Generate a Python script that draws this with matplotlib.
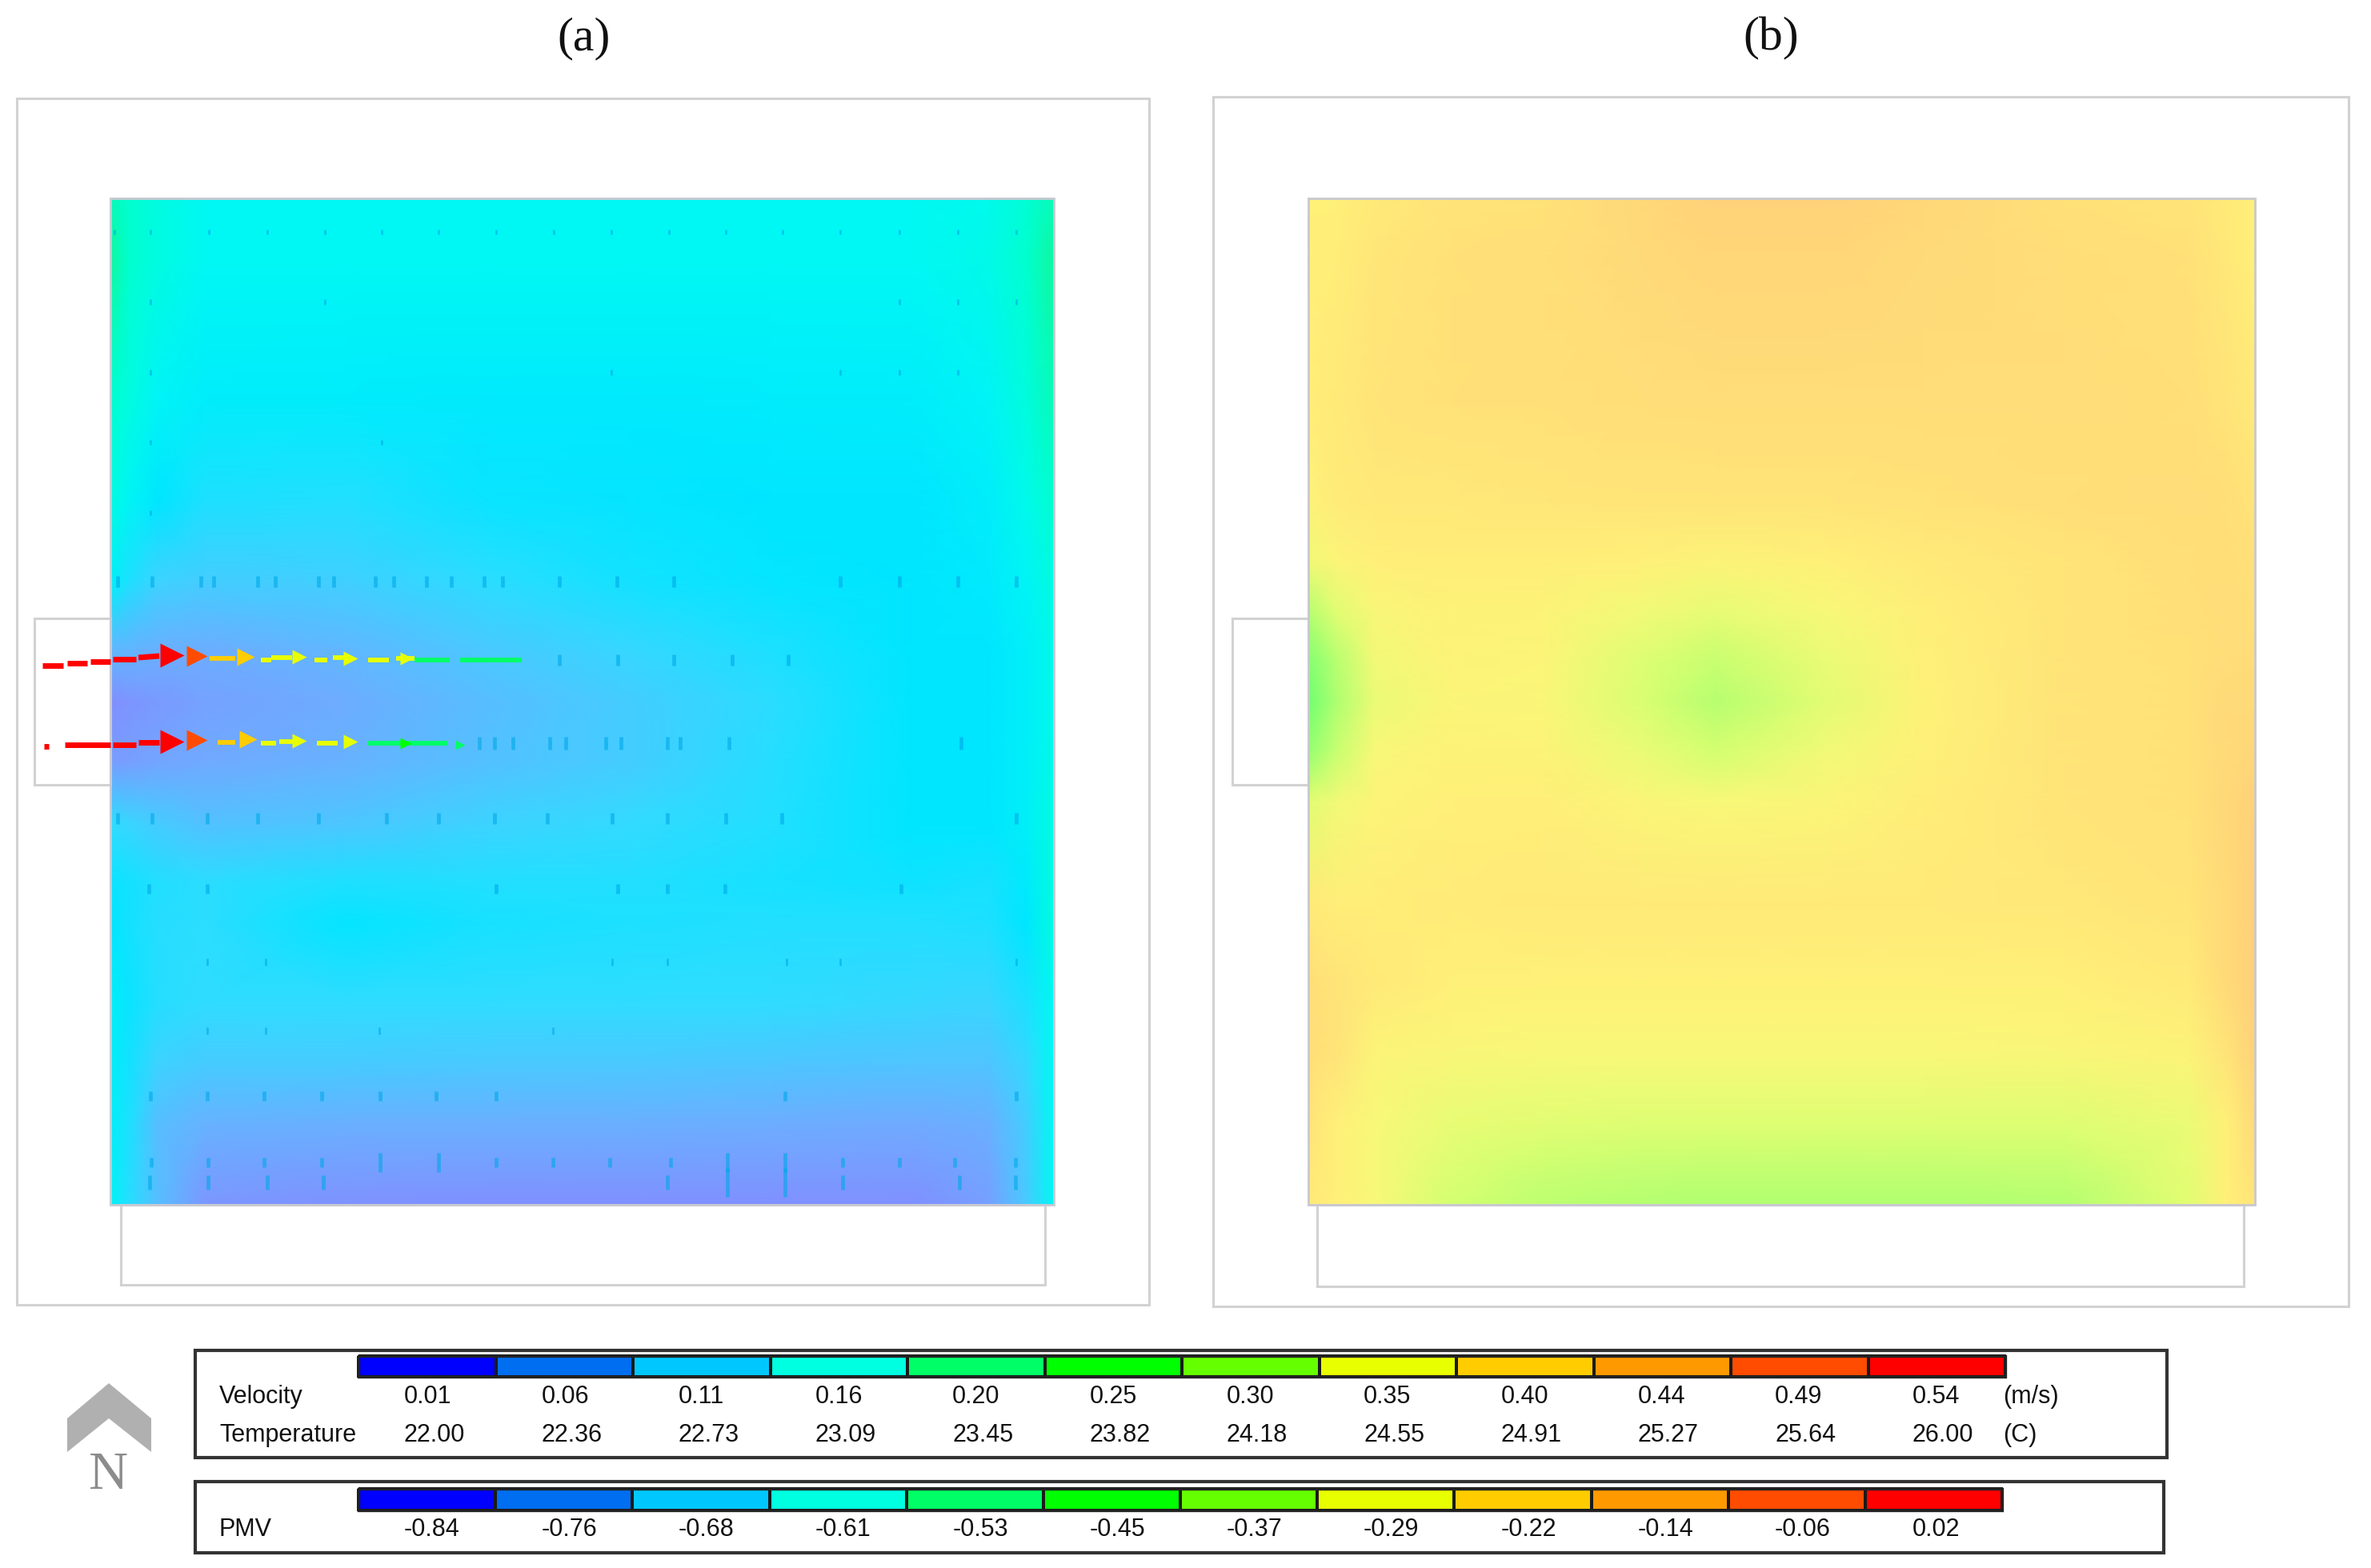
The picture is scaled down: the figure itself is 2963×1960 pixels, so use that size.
import matplotlib
matplotlib.use("Agg")
import matplotlib.pyplot as plt
import numpy as np
from matplotlib.colors import LinearSegmentedColormap, ListedColormap
from matplotlib.patches import Polygon, Rectangle

plt.rcParams["font.family"] = ["Liberation Sans", "DejaVu Sans"]

# legend data
LEGEND_COLORS = ["#0000ff", "#006ef0", "#00c8ff", "#00ffe0", "#00ff66", "#00ff00",
                 "#66ff00", "#e8ff00", "#ffcc00", "#ff9900", "#ff4c00", "#ff0000"]
VELOCITY = ["0.01", "0.06", "0.11", "0.16", "0.20", "0.25", "0.30", "0.35", "0.40", "0.44", "0.49", "0.54"]
TEMPERATURE = ["22.00", "22.36", "22.73", "23.09", "23.45", "23.82", "24.18", "24.55", "24.91", "25.27", "25.64", "26.00"]
PMV = ["-0.84", "-0.76", "-0.68", "-0.61", "-0.53", "-0.45", "-0.37", "-0.29", "-0.22", "-0.14", "-0.06", "0.02"]

# left room, colour level read per grid node (0 blue-violet .. 7 green)
LEFT_COLS = [0, .02, .05, .1, .25, .4, .55, .7, .85, .93, .97, 1]
LEFT_ROWS = [0, .06, .2, .3, .38, .45, .5, .56, .62, .68, .72, .8, .86, .92, 1]
LEFT_FIELD = [
    [6.5, 6.0, 5.5, 5.0, 5.0, 5.0, 5.0, 5.0, 5.0, 5.2, 5.8, 6.5],
    [7.0, 6.0, 5.5, 5.0, 5.0, 5.0, 5.0, 5.0, 5.0, 5.3, 6.0, 7.0],
    [6.0, 5.5, 4.8, 4.4, 4.3, 4.2, 4.2, 4.3, 4.4, 4.8, 5.6, 6.5],
    [5.5, 4.8, 4.0, 3.4, 3.3, 3.8, 3.9, 4.0, 4.0, 4.4, 5.2, 6.0],
    [4.6, 3.4, 2.6, 2.4, 2.5, 3.1, 3.6, 3.9, 4.0, 4.2, 4.8, 5.5],
    [1.5, 1.4, 1.2, 1.1, 1.5, 2.2, 2.8, 3.4, 4.0, 4.0, 4.5, 5.3],
    [0.0, 0.2, 0.4, 0.7, 1.1, 1.8, 2.4, 3.1, 4.0, 4.0, 4.5, 5.2],
    [0.5, 0.6, 0.8, 1.0, 1.3, 1.9, 2.4, 3.2, 4.0, 4.0, 4.5, 5.3],
    [3.0, 2.7, 2.3, 1.9, 2.1, 2.6, 2.9, 3.3, 4.0, 4.0, 4.5, 5.5],
    [3.8, 3.6, 3.3, 3.1, 3.4, 3.3, 3.3, 3.5, 3.7, 3.5, 4.2, 5.5],
    [4.0, 3.6, 3.2, 3.1, 3.9, 3.5, 3.4, 3.3, 3.3, 3.4, 4.0, 5.5],
    [4.5, 3.8, 3.2, 3.0, 3.0, 3.0, 3.0, 3.0, 2.8, 2.7, 3.4, 5.0],
    [4.5, 3.6, 2.6, 2.3, 2.3, 2.2, 2.2, 2.1, 2.0, 2.0, 2.8, 5.0],
    [4.5, 3.4, 1.8, 1.3, 1.2, 1.2, 1.2, 1.1, 1.0, 1.2, 2.4, 5.0],
    [4.8, 3.2, 1.8, 0.3, 0.1, 0.0, 0.0, 0.0, 0.0, 0.6, 2.2, 5.0],
]
LEFT_LEVELS = ["#8090ff", "#70aaff", "#50c4ff", "#30dcff", "#00e6ff", "#00f8f4", "#00ffd0", "#10f8a0"]

# right room, colour level read per grid node (0 green .. 7 orange)
RIGHT_COLS = [0, .03, .07, .15, .25, .35, .43, .55, .65, .8, .93, .97, 1]
RIGHT_ROWS = [0, .06, .2, .3, .36, .41, .46, .5, .55, .6, .7, .78, .85, .92, 1]
RIGHT_FIELD = [
    [4.0, 4.0, 4.5, 5.0, 5.2, 6.2, 6.8, 6.8, 6.3, 5.3, 5.0, 4.5, 4.0],
    [4.0, 4.2, 4.8, 5.3, 5.5, 6.0, 6.4, 6.4, 6.0, 5.6, 5.3, 4.7, 4.0],
    [4.2, 4.5, 5.0, 5.3, 5.4, 5.6, 5.7, 5.7, 5.7, 5.7, 5.5, 5.0, 4.5],
    [3.8, 4.3, 4.6, 4.7, 4.8, 5.0, 5.0, 5.0, 5.2, 5.5, 5.7, 5.5, 5.0],
    [2.8, 3.5, 4.0, 4.2, 4.2, 4.0, 3.6, 4.0, 4.5, 5.0, 5.5, 5.6, 5.3],
    [1.2, 2.3, 3.2, 3.8, 3.6, 2.8, 2.5, 3.0, 4.1, 5.0, 5.4, 5.7, 5.5],
    [0.3, 1.2, 2.8, 3.6, 3.4, 2.2, 1.6, 2.6, 3.9, 5.0, 5.3, 5.7, 5.8],
    [0.0, 1.0, 2.6, 3.4, 3.3, 2.1, 1.2, 2.4, 3.8, 5.0, 5.3, 6.0, 6.0],
    [0.6, 1.6, 3.0, 3.7, 3.6, 2.6, 1.9, 2.8, 3.9, 5.0, 5.3, 6.0, 6.3],
    [2.3, 2.8, 3.5, 4.0, 4.1, 3.4, 3.0, 3.4, 4.2, 5.0, 5.3, 6.2, 6.8],
    [4.5, 4.2, 4.2, 4.3, 4.5, 4.5, 4.5, 4.5, 4.5, 4.7, 5.0, 6.0, 7.2],
    [5.5, 5.0, 4.5, 4.0, 3.9, 3.9, 3.9, 3.9, 3.9, 4.0, 4.5, 6.0, 7.2],
    [5.5, 5.0, 3.5, 3.2, 3.0, 3.0, 3.0, 3.0, 3.0, 3.2, 3.6, 5.0, 6.8],
    [5.0, 4.0, 3.0, 2.5, 2.3, 2.2, 2.2, 2.2, 2.2, 2.2, 2.6, 4.0, 6.0],
    [4.5, 4.0, 3.0, 1.9, 1.3, 1.1, 1.0, 1.0, 1.0, 1.1, 2.3, 4.0, 5.0],
]
RIGHT_LEVELS = ["#70ff70", "#b0ff70", "#d8ff70", "#f8f878", "#fff078", "#ffe478", "#ffda78", "#ffd078"]

# velocity arrows in the left room: x0, x1, y0, y1, speed
ARROW_SEGS = [
    (53, 79, 832, 832, .54), (84, 109, 829, 829, .54), (113, 138, 827, 827, .54), (141, 170, 824, 824, .54),
    (173, 199, 822, 820, .54), (262, 294, 823, 823, .40), (326, 339, 825, 825, .33), (339, 365, 822, 822, .35),
    (393, 409, 825, 825, .33), (416, 435, 822, 822, .35), (460, 486, 825, 825, .33), (495, 518, 823, 823, .35),
    (518, 562, 825, 825, .20), (575, 652, 825, 825, .20),
    (55, 61, 933, 933, .54), (81, 138, 931, 931, .54), (141, 170, 931, 931, .54), (173, 199, 928, 928, .54),
    (272, 294, 928, 928, .40), (326, 345, 929, 929, .33), (349, 368, 927, 927, .35), (396, 422, 929, 929, .33),
    (460, 559, 929, 929, .20),
]
ARROW_HEADS = [
    (215, 819, 30, .54), (246, 820, 26, .49), (307, 821, 22, .40), (374, 821, 18, .35), (438, 823, 18, .35),
    (508, 823, 16, .35),
    (215, 927, 30, .54), (246, 925, 26, .49), (310, 924, 22, .40), (374, 926, 18, .35), (438, 927, 18, .35),
    (507, 929, 14, .25), (575, 931, 12, .20),
]

# small vectors in the left room: row y, x positions, mark length
DOT_ROWS = [
    (290, [143, 188, 261, 334, 406, 477, 548, 620, 692, 764, 836, 907, 978, 1050, 1124, 1197, 1270], 6),
    (378, [188, 406, 1124, 1197, 1270], 7),
    (465, [188, 764, 1050, 1124, 1197], 7),
    (553, [188, 477], 6),
    (641, [188], 6),
    (727, [147, 190, 251, 267, 322, 344, 398, 417, 469, 492, 533, 564, 605, 628, 699, 771, 842, 1050, 1124, 1197, 1270], 14),
    (825, [699, 772, 842, 915, 985], 14),
    (929, [599, 618, 641, 687, 707, 757, 776, 834, 850, 911, 1201], 16),
    (1023, [147, 190, 259, 322, 398, 483, 548, 618, 684, 765, 834, 907, 977, 1270], 14),
    (1111, [186, 259, 620, 772, 834, 906, 1126], 12),
    (1202, [259, 332, 765, 834, 983, 1050, 1270], 9),
    (1288, [259, 332, 474, 691], 9),
    (1370, [188, 259, 330, 402, 475, 545, 620, 981, 1270], 12),
    (1453, [189, 260, 330, 402, 475, 548, 620, 691, 762, 838, 909, 981, 1053, 1124, 1193, 1269], 12),
    (1478, [187, 260, 334, 404, 834, 909, 981, 1053, 1199, 1269], 18),
]
LONG_MARKS_X = [475, 548, 909, 981]

VALUE_X0 = 505
fig = plt.figure(figsize=(29.63, 19.6), dpi=100)
ax = fig.add_axes([0, 0, 1, 1])
ax.set_xlim(0, 2963)
ax.set_ylim(1960, 0)
ax.axis("off")


def box(x0, y0, x1, y1, color="#d2d2d2", lw=2.2, z=3):
    ax.add_patch(Rectangle((x0, y0), x1 - x0, y1 - y0, fill=False, ec=color, lw=lw, zorder=z))


def draw_field(cols, rows, field, levels, x0, x1, y0, y1):
    cmap = LinearSegmentedColormap.from_list("room", levels)
    xx = x0 + np.array(cols) * (x1 - x0)
    yy = y0 + np.array(rows) * (y1 - y0)
    ax.pcolormesh(xx, yy, np.array(field), cmap=cmap, vmin=0, vmax=7, shading="gouraud", zorder=1)
    box(x0, y0, x1, y1, color="#c8c8d0", lw=2.0)


# frames and rooms
box(21, 123, 1436, 1631)
box(1516, 121, 2935, 1633)
box(43, 773, 138, 981)
box(151, 1506, 1306, 1606)
box(1540, 773, 1635, 981)
box(1646, 1506, 2804, 1608)
draw_field(LEFT_COLS, LEFT_ROWS, LEFT_FIELD, LEFT_LEVELS, 138, 1317, 248, 1506)
draw_field(RIGHT_COLS, RIGHT_ROWS, RIGHT_FIELD, RIGHT_LEVELS, 1635, 2818, 248, 1506)

# small vectors
for row_y, xs, length in DOT_ROWS:
    sizes = [(length * (2 if x in LONG_MARKS_X and row_y > 1400 else 1) * 0.72) ** 2 for x in xs]
    ax.scatter(xs, [row_y] * len(xs), s=sizes, marker="|", c="#00a8e8", alpha=0.6,
               linewidths=3.4 if length > 11 else 2.0, zorder=4)

# inlet arrows
speed_cmap = ListedColormap(LEGEND_COLORS)
speed_norm = plt.Normalize(0, 0.56)
for x0, x1, y0, y1, speed in ARROW_SEGS:
    ax.plot([x0, x1], [y0, y1], color=speed_cmap(speed_norm(speed)), lw=5.0 if speed > .5 else 4.2,
            solid_capstyle="butt", zorder=5)
for x, y, size, speed in ARROW_HEADS:
    ax.scatter([x], [y], s=(size * 0.72) ** 2, marker=">", color=speed_cmap(speed_norm(speed)),
               linewidths=0, zorder=6)

# titles
ax.text(730, 48, "(a)", ha="center", va="center", fontsize=43, family="Liberation Serif", color="#111111")
ax.text(2213, 48, "(b)", ha="center", va="center", fontsize=43, family="Liberation Serif", color="#111111")

# north sign
ax.add_patch(Polygon([(136, 1729), (189, 1773), (189, 1815), (136, 1773), (84, 1815), (84, 1773)],
                     closed=True, fc="#b0b0b0", ec="none"))
ax.text(136, 1844, "N", ha="center", va="center", fontsize=49, family="Liberation Serif", color="#8c8c8c")


def legend_bar(x0, x1, y0, y1):
    edges = np.linspace(x0, x1, len(LEGEND_COLORS) + 1)
    ax.pcolormesh(edges, [y0, y1], np.arange(len(LEGEND_COLORS)).reshape(1, -1), cmap=ListedColormap(LEGEND_COLORS),
                  edgecolors="#1a1a1a", linewidth=1.6, zorder=2)
    box(x0, y0, x1, y1, color="#222222", lw=2.4)


def legend_row(y, name, values, unit=None):
    step = 171.3
    ax.text(274, y, name, ha="left", va="center", fontsize=22, color="#111111")
    for i, value in enumerate(values):
        ax.text(VALUE_X0 + i * step, y, value, ha="left", va="center", fontsize=22, color="#111111")
    if unit:
        ax.text(2503, y, unit, ha="left", va="center", fontsize=22, color="#111111")


box(244, 1688, 2708, 1822, color="#333333", lw=3)
legend_bar(448, 2506, 1695, 1721)
legend_row(1746, "Velocity", VELOCITY, "(m/s)")
legend_row(1794, "Temperature", TEMPERATURE, "(C)")

box(244, 1852, 2704, 1941, color="#333333", lw=3)
legend_bar(448, 2502, 1861, 1888)
legend_row(1912, "PMV", PMV)

fig.savefig("out.png", dpi=100, facecolor="white")
